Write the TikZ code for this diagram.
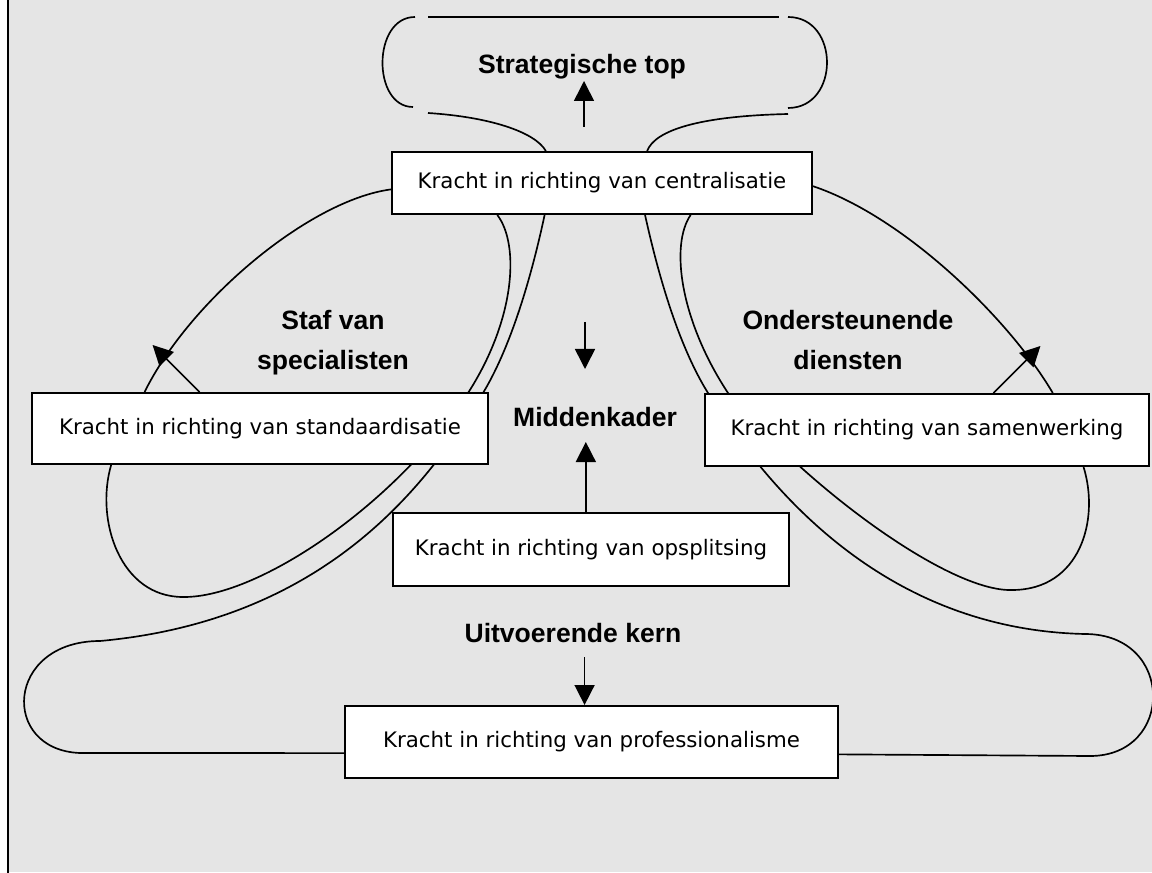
\documentclass[tikz,border=0pt]{standalone}
\usepackage{fontspec}
\usepackage{tikz}
\usetikzlibrary{arrows.meta,calc,backgrounds}
\newfontfamily\boxfont{DejaVu Sans}
\newfontfamily\partfont{Liberation Sans}
\definecolor{panelgrey}{HTML}{E5E5E5}
\tikzset{
  forcebox/.style={draw=black,fill=white,line width=1.5pt,align=center,inner sep=0pt,font=\boxfont\fontsize{16}{19}\selectfont},
  partlabel/.style={align=center,inner sep=0pt,font=\partfont\bfseries\fontsize{19.9}{30}\selectfont},
  forcearrow/.style={-{Triangle[length=15pt,width=15pt]},line width=1.2pt},
  loopline/.style={line width=1.25pt}
}

\begin{document}
\begin{tikzpicture}[x=0.75pt,y=-0.75pt]
  \useasboundingbox (0,0) rectangle (1152,873);
  % the five forces
  \node[forcebox,minimum width=315pt,minimum height=46.5pt] (central) at (602,183) {Kracht in richting van centralisatie};
  \node[forcebox,minimum width=342pt,minimum height=53.25pt] (standaard) at (260,428.5) {Kracht in richting van standaardisatie};
  \node[forcebox,minimum width=333pt,minimum height=54pt] (samen) at (927,430) {Kracht in richting van samenwerking};
  \node[forcebox,minimum width=297pt,minimum height=54.75pt] (opsplits) at (591,549.5) {Kracht in richting van opsplitsing};
  \node[forcebox,minimum width=369.75pt,minimum height=54pt] (prof) at (591.5,742) {Kracht in richting van professionalisme};
  % the five parts
  \node[partlabel,anchor=base] (toplabel) at (582,74) {Strategische top};
  \node[partlabel] (staflabel) at (333,343) {Staf van\\specialisten};
  \node[partlabel,anchor=base] (midlabel) at (595,426) {Middenkader};
  \node[partlabel] (dienstlabel) at (848,340) {Ondersteunende\\diensten};
  \node[partlabel,anchor=base] (kernlabel) at (573,642) {Uitvoerende kern};
  % pulls
  \coordinate (profin) at ($(prof.north west)!0.486!(prof.north east)$);
  \draw[forcearrow] ($(central.north)+(-18,-24)$) -- ++(0,-46);
  \draw[forcearrow] ($(standaard.north west)!0.368!(standaard.north east)$) -- ++(-47,-47);
  \draw[forcearrow] ($(samen.north west)!0.649!(samen.north east)$) -- ++(47,-47);
  \draw[forcearrow] ($(midlabel.base)+(-10,-104)$) -- ++(0,47);
  \draw[forcearrow] ($(opsplits.north west)!0.487!(opsplits.north east)$) -- ++(0,-70);
  \draw[forcearrow] ($(profin)+(0,-48)$) -- (profin);
  \begin{scope}[on background layer]
    \fill[panelgrey] (8,0) rectangle (1152,872);
    \draw[line width=1.9pt] (8,0) -- (8,873);
    % strategische top
    \draw[loopline] (428,17) -- (779,17);
    \draw[loopline] (415,17) .. controls (372,17) and (372,107) .. (413,107);
    \draw[loopline] (788,17) .. controls (840,17) and (840,108) .. (788,108);
    \draw[loopline] (428,113) .. controls (490,117) and (535,132) .. ($(central.north west)!0.367!(central.north east)$);
    \draw[loopline] (788,114) .. controls (700,116) and (655,130) .. ($(central.north west)!0.607!(central.north east)$);
    % staf van specialisten
    \draw[loopline] ($(central.north west)!0.6!(central.south west)$) .. controls (310,200) and (190,300) .. ($(standaard.north west)!0.248!(standaard.north east)$);
    \draw[loopline] ($(central.south west)!0.252!(central.south east)$) .. controls (520,245) and (515,320) .. (468,393) .. controls (400,500) and (260,598) .. (183,597) .. controls (120,597) and (95,520) .. ($(standaard.south west)!0.175!(standaard.south east)$);
    % ondersteunende diensten
    \draw[loopline] ($(central.north east)!0.55!(central.south east)$) .. controls (905,217) and (1010,320) .. ($(samen.north west)!0.782!(samen.north east)$);
    \draw[loopline] ($(central.south west)!0.71!(central.south east)$) .. controls (670,245) and (680,320) .. (728,393) .. controls (810,490) and (950,592) .. (1012,590) .. controls (1080,590) and (1100,520) .. ($(samen.south west)!0.851!(samen.south east)$);
    % uitvoerende kern
    \draw[loopline] ($(central.south west)!0.364!(central.south east)$) .. controls (535,260) and (515,340) .. (483,393) .. controls (430,480) and (330,620) .. (100,641) .. controls (5,641) and (0,750) .. (80,753) -- ($(prof.north west)!0.65!(prof.south west)$);
    \draw[loopline] ($(central.south west)!0.602!(central.south east)$) .. controls (655,260) and (675,340) .. (708,393) .. controls (780,510) and (900,630) .. (1085,634) .. controls (1175,634) and (1175,756) .. (1090,756) -- ($(prof.north east)!0.667!(prof.south east)$);
  \end{scope}
\end{tikzpicture}
\end{document}
